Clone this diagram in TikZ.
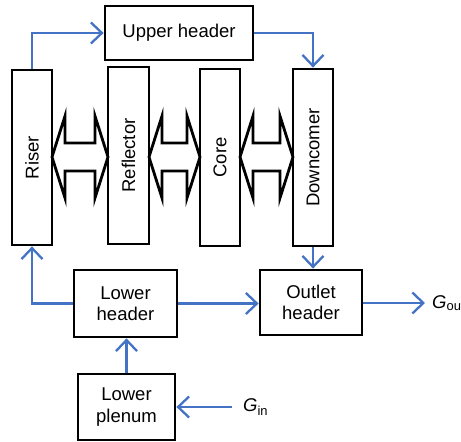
\documentclass[tikz,border=0pt]{standalone}
\usepackage{fontspec}
\setmainfont{Liberation Sans}
\usetikzlibrary{arrows.meta}
\definecolor{flowblue}{RGB}{68,114,196}
\newcommand{\hollowarrow}[3]{%
  \draw[hollow] (#1,#3) -- (#1+13,#3-41) -- (#1+13,#3-14) -- (#2-13,#3-14) -- (#2-13,#3-41) -- (#2,#3)
    -- (#2-13,#3+41) -- (#2-13,#3+14) -- (#1+13,#3+14) -- (#1+13,#3+41) -- cycle;}
\begin{document}
\begin{tikzpicture}[x=1pt,y=-1pt,
  box/.style={draw,line width=2.8pt,inner sep=0pt,align=center,
    font=\fontsize{18.5}{21.5}\selectfont},
  vbox/.style={box,rotate=90},
  hollow/.style={draw,line width=2.8pt,fill=white,line join=miter},
  flow/.style={draw=flowblue,line width=2.3pt,-{Straight Barb[length=11pt,width=21pt,line width=2.3pt]}},
  lbl/.style={inner sep=0pt,font=\fontsize{18.5}{21.5}\selectfont}]
\useasboundingbox (0,0) rectangle (461,442);
% boxes
\node[box,minimum width=148pt,minimum height=54pt] (uh) at (179,33) {Upper header};
\node[vbox,minimum width=175pt,minimum height=40pt] (riser) at (32,157.5) {Riser};
\node[vbox,minimum width=177pt,minimum height=41pt] (refl) at (128.5,155.5) {Reflector};
\node[vbox,minimum width=177pt,minimum height=40pt] (core) at (220,157.5) {Core};
\node[vbox,minimum width=177pt,minimum height=40pt] (down) at (313,157.5) {Downcomer};
\node[box,minimum width=103pt,minimum height=67pt] (lh) at (125.5,303.5) {Lower\\header};
\node[box,minimum width=102pt,minimum height=65pt] (outlet) at (311,302.5) {Outlet\\header};
\node[box,minimum width=97pt,minimum height=66pt] (plenum) at (126.5,407) {Lower\\plenum};
% hollow double arrows
\hollowarrow{52}{108}{157}
\hollowarrow{149}{200}{157}
\hollowarrow{240}{293}{157}
% labels
\node[lbl,anchor=west] (gin) at (243,407) {\textit{G}\textsubscript{in}};
\node[lbl,anchor=west] (gout) at (432,303) {\textit{G}\textsubscript{out}};
\coordinate (ginstart) at (232,407);
\coordinate (goutend) at (425,303);
% flows (rotated nodes: east = top, west = bottom)
\draw[flow] (riser.east) |- (uh.west);
\draw[flow] (uh.east) -| (down.east);
\draw[flow] (down.west) -- (down.west |- outlet.north);
\draw[flow] (lh.west) -| (riser.west);
\draw[flow] (lh.east) -- (lh.east -| outlet.west);
\draw[flow] (outlet.east |- goutend) -- (goutend);
\draw[flow] (plenum.north) -- (plenum.north |- lh.south);
\draw[flow] (ginstart) -- (plenum.east |- ginstart);
\end{tikzpicture}
\end{document}
